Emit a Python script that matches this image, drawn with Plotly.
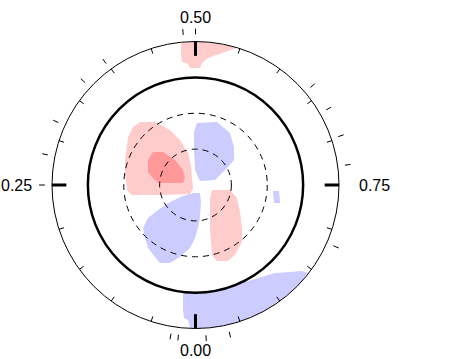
import numpy as np
import plotly.graph_objects as go

# ring radii (outer circle = 1)
dashed_radii = [0.25, 0.5]
solid_radius = 0.75
outer_radius = 1.0

# rotation phase labels, 0 at bottom, increasing clockwise
label_phases = [0.0, 0.25, 0.5, 0.75]
label_text = ["0.00", "0.25", "0.50", "0.75"]
label_radius = [1.155, 1.25, 1.17, 1.25]

minor_phases = [0.05, 0.10, 0.15, 0.20, 0.30, 0.35, 0.40, 0.45,
                0.55, 0.60, 0.65, 0.70, 0.80, 0.85, 0.90, 0.95]
obs_phases = [0.018, 0.026, 0.250, 0.282, 0.318, 0.369, 0.399, 0.487,
              0.500, 0.638, 0.667, 0.698, 0.729, 0.816, 0.964, 0.989]

# map features (x, y in units of the outer radius)
red_ul_x = [-0.387, -0.282, -0.178, -0.108, -0.052, -0.031, -0.024, -0.017, -0.038,
            -0.247, -0.443, -0.477, -0.491, -0.491, -0.477, -0.470, -0.436]
red_ul_y = [0.439, 0.439, 0.383, 0.314, 0.223, 0.139, 0.035, -0.021, -0.063,
            -0.070, -0.070, -0.035, 0.070, 0.174, 0.279, 0.334, 0.404]

spot_x = [-0.296, -0.226, -0.143, -0.087, -0.073, -0.087, -0.260, -0.300, -0.331, -0.331]
spot_y = [0.230, 0.230, 0.174, 0.105, 0.049, 0.014, 0.014, 0.050, 0.090, 0.174]

blue_ur_x = [0.010, 0.150, 0.240, 0.268, 0.268, 0.220, 0.136, 0.031, -0.003, -0.010, -0.010]
blue_ur_y = [0.432, 0.439, 0.362, 0.265, 0.174, 0.118, 0.035, 0.028, 0.105, 0.244, 0.369]

blue_ll_x = [-0.017, 0.031, 0.038, 0.031, 0.017, -0.003, -0.038, -0.108, -0.178,
             -0.247, -0.282, -0.331, -0.352, -0.366, -0.331, -0.261, -0.178, -0.087]
blue_ll_y = [-0.056, -0.056, -0.118, -0.230, -0.300, -0.369, -0.439, -0.502, -0.544,
             -0.544, -0.502, -0.439, -0.369, -0.300, -0.230, -0.174, -0.118, -0.077]

red_lr_x = [0.115, 0.240, 0.289, 0.310, 0.324, 0.324, 0.275, 0.226, 0.150,
            0.115, 0.108, 0.101, 0.101, 0.101]
red_lr_y = [-0.035, -0.035, -0.091, -0.188, -0.300, -0.397, -0.488, -0.530, -0.530,
            -0.488, -0.397, -0.300, -0.188, -0.091]

blue_dot_x = [0.540, 0.582, 0.589, 0.547]
blue_dot_y = [-0.042, -0.042, -0.125, -0.125]

red_top_x = [-0.101, -0.003, 0.101, 0.206, 0.296, 0.261, 0.206, 0.150, 0.087,
             0.045, 0.031, -0.038, -0.052, -0.094, -0.101]
red_top_y = [0.990, 1.000, 0.993, 0.976, 0.955, 0.948, 0.927, 0.906, 0.885,
             0.850, 0.815, 0.815, 0.843, 0.857, 0.906]

blue_bot_x = [-0.087, 0.031, 0.171, 0.310, 0.394, 0.463, 0.554, 0.659, 0.742, 0.784,
              0.728, 0.589, 0.449, 0.310, 0.171, 0.031, -0.038, -0.052, -0.080, -0.087]
blue_bot_y = [-0.746, -0.749, -0.730, -0.683, -0.662, -0.641, -0.613, -0.606, -0.599, -0.613,
              -0.685, -0.808, -0.893, -0.951, -0.985, -0.999, -0.997, -0.941, -0.927, -0.871]

LIGHT_RED = "rgb(255,204,204)"
DARK_RED = "rgb(255,153,153)"
BLUE = "rgb(204,204,255)"


def pos(phase, r):
    a = 2 * np.pi * np.asarray(phase)
    return -r * np.sin(a), -r * np.cos(a)


def seg(phases, r0, r1):
    xs, ys = [], []
    for p in phases:
        x0, y0 = pos(p, r0)
        x1, y1 = pos(p, r1)
        xs += [x0, x1, None]
        ys += [y0, y1, None]
    return xs, ys


fig = go.Figure()

for bx, by, col in [(red_ul_x, red_ul_y, LIGHT_RED), (spot_x, spot_y, DARK_RED),
                    (blue_ur_x, blue_ur_y, BLUE), (blue_ll_x, blue_ll_y, BLUE),
                    (red_lr_x, red_lr_y, LIGHT_RED), (blue_dot_x, blue_dot_y, BLUE),
                    (red_top_x, red_top_y, LIGHT_RED), (blue_bot_x, blue_bot_y, BLUE)]:
    fig.add_trace(go.Scatter(x=bx, y=by, fill="toself", fillcolor=col, mode="lines",
                             line=dict(width=0, color=col), hoverinfo="skip"))

# minor ticks inside the outer circle
mx, my = seg(minor_phases, 0.963, outer_radius)
fig.add_trace(go.Scatter(x=mx, y=my, mode="lines", line=dict(color="black", width=1)))
# major ticks at quarter phases
qx, qy = seg(label_phases, 0.9, outer_radius)
fig.add_trace(go.Scatter(x=qx, y=qy, mode="lines", line=dict(color="black", width=3)))
# observation phases outside
ox, oy = seg(obs_phases, 1.05, 1.09)
fig.add_trace(go.Scatter(x=ox, y=oy, mode="lines", line=dict(color="black", width=1)))

for r in dashed_radii:
    fig.add_shape(type="circle", x0=-r, y0=-r, x1=r, y1=r,
                  line=dict(color="black", width=1, dash="6px,5px"))
fig.add_shape(type="circle", x0=-solid_radius, y0=-solid_radius, x1=solid_radius, y1=solid_radius,
              line=dict(color="black", width=2.5))
fig.add_shape(type="circle", x0=-outer_radius, y0=-outer_radius, x1=outer_radius, y1=outer_radius,
              line=dict(color="black", width=1))

for p, t, r in zip(label_phases, label_text, label_radius):
    lx, ly = pos(p, r)
    fig.add_annotation(x=float(lx), y=float(ly), text=t, showarrow=False,
                       font=dict(size=16, color="black"))

fig.update_layout(
    width=457, height=359, autosize=False,
    margin=dict(l=0, r=0, t=0, b=0),
    plot_bgcolor="white", paper_bgcolor="white",
    showlegend=False,
    font=dict(family="Liberation Sans, Arial, sans-serif"),
)
fig.update_xaxes(range=[-1.3624, 1.8223], visible=False, showgrid=False, zeroline=False)
fig.update_yaxes(range=[-1.2125, 1.2892], visible=False, showgrid=False, zeroline=False)

# drop the default 8px page margin so the figure fills the window
fig.write_html("out.html", config={"displayModeBar": False},
               post_script="document.body.style.margin='0px';")
